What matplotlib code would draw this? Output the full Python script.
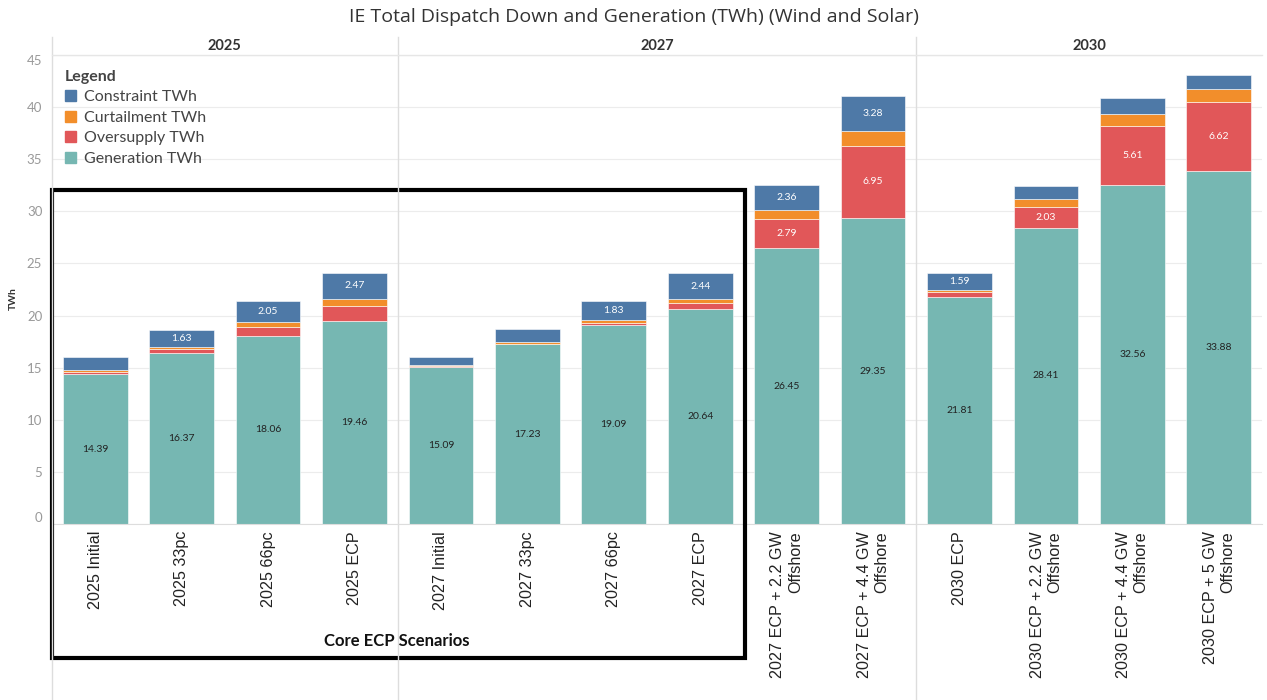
import matplotlib.pyplot as plt
from matplotlib.patches import Patch, Rectangle
from matplotlib.lines import Line2D

plt.rcParams['font.family'] = ['Lato', 'DejaVu Sans']

# data (TWh)
scenarios = ["2025 Initial", "2025 33pc", "2025 66pc", "2025 ECP",
             "2027 Initial", "2027 33pc", "2027 66pc", "2027 ECP",
             "2027 ECP + 2.2 GW\nOffshore", "2027 ECP + 4.4 GW\nOffshore",
             "2030 ECP", "2030 ECP + 2.2 GW\nOffshore",
             "2030 ECP + 4.4 GW\nOffshore", "2030 ECP + 5 GW\nOffshore"]
generation = [14.39, 16.37, 18.06, 19.46, 15.09, 17.23, 19.09, 20.64, 26.45, 29.35, 21.81, 28.41, 32.56, 33.88]
oversupply = [0.20, 0.40, 0.80, 1.50, 0.05, 0.05, 0.22, 0.61, 2.79, 6.95, 0.42, 2.03, 5.61, 6.62]
curtailment = [0.20, 0.25, 0.50, 0.67, 0.12, 0.15, 0.29, 0.35, 0.93, 1.44, 0.22, 0.74, 1.15, 1.22]
constraint = [1.19, 1.63, 2.05, 2.47, 0.75, 1.30, 1.83, 2.44, 2.36, 3.28, 1.59, 1.25, 1.57, 1.35]

# which segment values Tableau printed
show_constraint = [False, True, True, True, False, False, True, True, True, True, True, False, False, False]
show_oversupply = [False, False, False, False, False, False, False, False, True, True, False, True, True, True]

years = ["2025", "2027", "2030"]
group_sizes = [4, 6, 4]

c_con = '#4e79a7'
c_cur = '#f28e2b'
c_ovs = '#e15759'
c_gen = '#76b7b2'

W, H = 1267, 700
fig = plt.figure(figsize=(W / 100, H / 100), dpi=100)
ax = fig.add_axes([52 / W, 1 - 524 / H, 1210 / W, 469 / H])

x = list(range(len(scenarios)))
bw = 0.75
b1 = generation
b2 = [g + o for g, o in zip(generation, oversupply)]
b3 = [b + c for b, c in zip(b2, curtailment)]

ax.bar(x, generation, bw, color=c_gen, edgecolor='white', linewidth=0.4, zorder=2)
ax.bar(x, oversupply, bw, bottom=b1, color=c_ovs, edgecolor='white', linewidth=0.4, zorder=2)
ax.bar(x, curtailment, bw, bottom=b2, color=c_cur, edgecolor='white', linewidth=0.4, zorder=2)
ax.bar(x, constraint, bw, bottom=b3, color=c_con, edgecolor='white', linewidth=0.4, zorder=2)

# segment labels
for i in x:
    ax.text(i, generation[i] / 2, f"{generation[i]:.2f}", ha='center', va='center',
            fontsize=7.5, color='#222222', zorder=3)
    if show_oversupply[i]:
        ax.text(i, b1[i] + oversupply[i] / 2, f"{oversupply[i]:.2f}", ha='center', va='center',
                fontsize=7.5, color='white', zorder=3)
    if show_constraint[i]:
        ax.text(i, b3[i] + constraint[i] / 2, f"{constraint[i]:.2f}", ha='center', va='center',
                fontsize=7.5, color='white', zorder=3)

ax.set_xlim(-0.5, len(scenarios) - 0.5)
ax.set_ylim(0, 45)
ax.set_yticks(range(0, 46, 5))
ax.grid(axis='y', color='#ececec', linewidth=0.8, zorder=0)
ax.set_xticks(x)
ax.set_xticklabels(scenarios, rotation=90, fontsize=11.6, color='#222222',
                   family=['Liberation Sans', 'DejaVu Sans'], multialignment='right')
ax.tick_params(axis='x', length=0, pad=5)
ax.tick_params(axis='y', length=0, pad=7, labelsize=9.5, labelcolor='#999999')
yl = ax.get_yticklabels()
yl[0].set_va('bottom')
yl[-1].set_va('top')
for s in ['top', 'right', 'left']:
    ax.spines[s].set_visible(False)
ax.spines['bottom'].set_color('#dddddd')
ax.set_ylabel('TWh', fontsize=7.5, fontweight='bold', color='#333333')
ax.yaxis.set_label_coords((18 - 52) / 1210, 0.48)

# panel separators and year headers
edges = [0]
for n in group_sizes:
    edges.append(edges[-1] + n)
for k, yr in enumerate(years):
    left = edges[k] - 0.5
    mid = (edges[k] + edges[k + 1] - 1) / 2
    ax.text(mid, 1.0 + 9 / 469, yr, transform=ax.get_xaxis_transform(), ha='center', va='center',
            fontsize=10.5, fontweight='bold', color='#333333')
    xf = (52 + (left + 0.5) * 1210 / len(scenarios)) / W
    fig.add_artist(Line2D([xf, xf], [0, 1 - 37 / H], transform=fig.transFigure,
                          color='#dddddd', linewidth=1))
fig.add_artist(Line2D([52 / W, 1262 / W], [1 - 55 / H, 1 - 55 / H], transform=fig.transFigure,
                      color='#e6e6e6', linewidth=1))

fig.suptitle('IE Total Dispatch Down and Generation (TWh) (Wind and Solar)',
             y=1 - 17 / H, va='center', fontsize=14, color='#333333',
             family=['Open Sans', 'DejaVu Sans'])

handles = [Patch(color=c_con, label='Constraint TWh'),
           Patch(color=c_cur, label='Curtailment TWh'),
           Patch(color=c_ovs, label='Oversupply TWh'),
           Patch(color=c_gen, label='Generation TWh')]
leg = ax.legend(handles=handles, title='Legend', loc='upper left',
                bbox_to_anchor=(55 / W, 1 - 60 / H), bbox_transform=fig.transFigure,
                frameon=False, fontsize=11.5, handlelength=0.7, handleheight=0.7,
                handletextpad=0.5, labelspacing=0.4, alignment='left',
                title_fontproperties={'weight': 'bold', 'size': 11.5}, borderpad=0.1)
for t in leg.get_texts():
    t.set_color('#444444')
leg.get_title().set_color('#444444')

# Core ECP box
fig.add_artist(Rectangle((52 / W, 1 - 658 / H), 693 / W, 468 / H, transform=fig.transFigure,
                         fill=False, edgecolor='black', linewidth=3))
fig.text(397 / W, 1 - 641 / H, 'Core ECP Scenarios', ha='center', va='center',
         fontsize=12, fontweight='bold', color='#111111')

fig.savefig('out.png', dpi=100)
